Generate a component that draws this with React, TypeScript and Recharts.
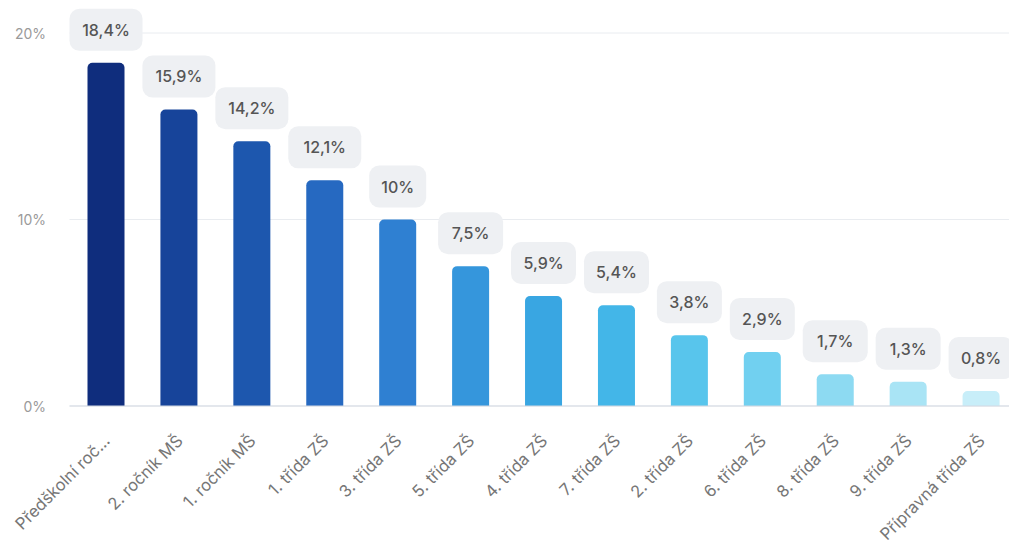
import React from "react";
import { BarChart, Bar, XAxis, YAxis, CartesianGrid, Cell, LabelList } from "recharts";

const categories = [
  "Předškolní ročník",
  "2. ročník MŠ",
  "1. ročník MŠ",
  "1. třída ZŠ",
  "3. třída ZŠ",
  "5. třída ZŠ",
  "4. třída ZŠ",
  "7. třída ZŠ",
  "2. třída ZŠ",
  "6. třída ZŠ",
  "8. třída ZŠ",
  "9. třída ZŠ",
  "Přípravná třída ZŠ",
];
const tickLabels = [
  "Předškolní roč...",
  "2. ročník MŠ",
  "1. ročník MŠ",
  "1. třída ZŠ",
  "3. třída ZŠ",
  "5. třída ZŠ",
  "4. třída ZŠ",
  "7. třída ZŠ",
  "2. třída ZŠ",
  "6. třída ZŠ",
  "8. třída ZŠ",
  "9. třída ZŠ",
  "Přípravná třída ZŠ",
];
const values = [18.4, 15.9, 14.2, 12.1, 10, 7.5, 5.9, 5.4, 3.8, 2.9, 1.7, 1.3, 0.8];
const colors = [
  "#0f2d7d",
  "#17449a",
  "#1d57ae",
  "#2669c1",
  "#2f80d2",
  "#3596dc",
  "#39a6e2",
  "#43b6e8",
  "#58c5ec",
  "#71d0f0",
  "#8ddaf2",
  "#a9e4f5",
  "#c8eef9",
];
const yTicks = [0, 10, 20];

const data = categories.map((c, i) => ({ name: c, label: tickLabels[i], value: values[i] }));

const fmt = (v: number) => String(v).replace(".", ",") + "%";

const FONT = "Inter, 'Noto Sans', sans-serif";

const YTick = (props: any) => {
  const { y, payload } = props;
  return (
    <text x={46} y={y} textAnchor="end" dominantBaseline="central" fontSize={14} fill="#9a9a9a" fontFamily={FONT}>
      {payload.value}%
    </text>
  );
};

const XTick = (props: any) => {
  const { x, payload, index } = props;
  const px = x + 5;
  const py = 442;
  const label = tickLabels[index] ?? payload.value;
  return (
    <text
      x={px}
      y={py}
      textAnchor="end"
      fontSize={16.5}
      fill="#767676"
      fontFamily={FONT}
      transform={`rotate(-45, ${px}, ${py})`}
    >
      {label}
    </text>
  );
};

const BoxLabel = (props: any) => {
  const { x, y, width, value } = props;
  const cx = x + width / 2;
  const text = fmt(value);
  const w = 33 + 8 * text.length;
  const h = 42;
  const top = y - 12 - h;
  return (
    <g>
      <rect x={cx - w / 2} y={top} width={w} height={h} rx={10} ry={10} fill="#eef0f3" />
      <text
        x={cx}
        y={top + h / 2}
        textAnchor="middle"
        dominantBaseline="central"
        fontSize={16}
        fontWeight={500}
        fill="#555"
        fontFamily={FONT}
      >
        {text}
      </text>
    </g>
  );
};

export default function App() {
  return (
    <div style={{ position: "absolute", left: 0, top: 0, width: 1009, height: 547, overflow: "hidden", background: "#fff" }}>
      <BarChart width={1020} height={547} data={data} margin={{ top: 33, right: 2.5, bottom: 0, left: 0 }}>
        <CartesianGrid vertical={false} stroke="#e9ecf0" />
        <XAxis
          dataKey="name"
          height={141}
          interval={0}
          tickLine={false}
          axisLine={{ stroke: "#d3d9e2" }}
          tick={<XTick />}
        />
        <YAxis
          width={69.5}
          domain={[0, 20]}
          ticks={yTicks}
          axisLine={false}
          tickLine={false}
          tick={<YTick />}
        />
        <Bar dataKey="value" barSize={37} radius={[5, 5, 0, 0]} isAnimationActive={false}>
          {data.map((d, i) => (
            <Cell key={d.name} fill={colors[i]} />
          ))}
          <LabelList dataKey="value" content={<BoxLabel />} />
        </Bar>
      </BarChart>
    </div>
  );
}
